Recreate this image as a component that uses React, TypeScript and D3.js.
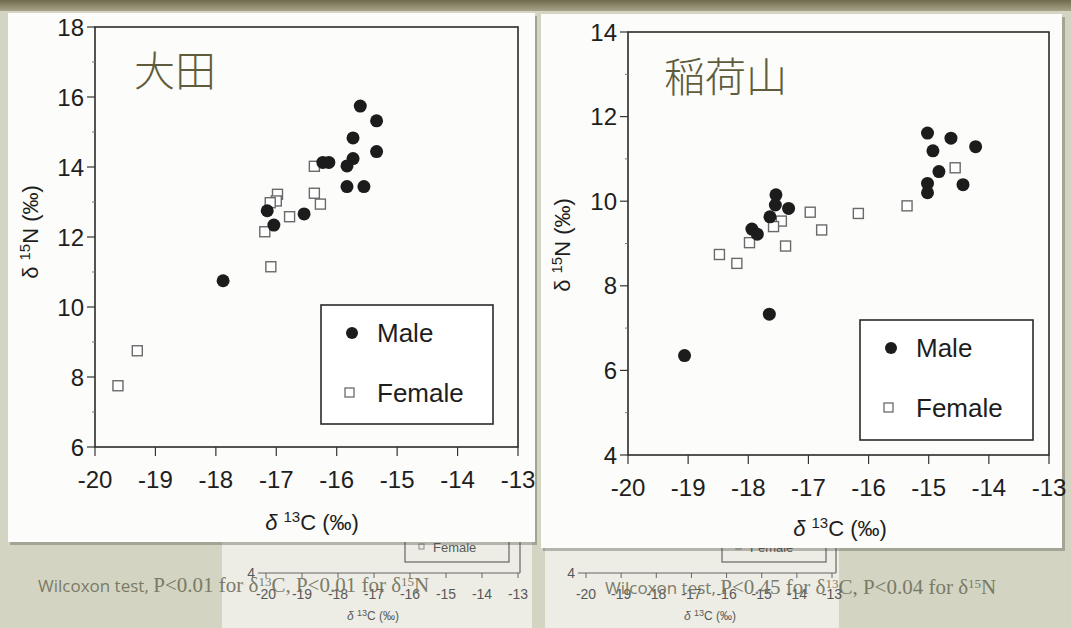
import React from 'react';
import * as d3 from 'd3';

// δ13C / δ15N values
const OTA_MALE_C = [-15.61, -15.34, -15.73, -15.34, -15.73, -15.83, -16.23, -16.13, -15.83, -15.55, -17.15, -17.04, -16.54, -17.88];
const OTA_MALE_N = [15.74, 15.32, 14.83, 14.44, 14.24, 14.03, 14.13, 14.13, 13.44, 13.44, 12.75, 12.34, 12.66, 10.75];
const OTA_FEMALE_C = [-16.37, -16.98, -17.0, -17.1, -16.37, -16.27, -16.78, -17.19, -17.09, -19.62, -19.3];
const OTA_FEMALE_N = [14.02, 13.22, 13.03, 12.98, 13.25, 12.94, 12.58, 12.15, 11.15, 7.75, 8.75];

const INARI_MALE_C = [-15.02, -14.63, -14.22, -14.93, -14.83, -14.43, -15.02, -15.02, -17.54, -17.55, -17.33, -17.64, -17.94, -17.85, -17.65, -19.06];
const INARI_MALE_N = [11.61, 11.49, 11.29, 11.19, 10.7, 10.39, 10.42, 10.2, 10.15, 9.91, 9.83, 9.63, 9.34, 9.22, 7.33, 6.35];
const INARI_FEMALE_C = [-14.56, -15.36, -16.17, -16.97, -16.78, -17.45, -17.58, -17.38, -17.98, -18.48, -18.19];
const INARI_FEMALE_N = [10.79, 9.89, 9.71, 9.74, 9.32, 9.53, 9.4, 8.94, 9.02, 8.74, 8.53];

const X_DOMAIN = [-20, -13];
const OTA_Y_DOMAIN = [6, 18];
const INARI_Y_DOMAIN = [4, 14];
const LEGEND_LABELS = ['Male', 'Female'];
const STATS_OTA = ['P<0.01', 'P<0.01'];
const STATS_INARI = ['P<0.45', 'P<0.04'];

const SANS = 'Liberation Sans, Arial, sans-serif';
const CJK = '"Noto Sans CJK JP", "Noto Sans CJK SC", sans-serif';
const SERIF = '"Liberation Serif", "DejaVu Serif", serif';

const zip = (a, b) => a.map((v, i) => [v, b[i]]);

function Panel({ title, maleC, maleN, femaleC, femaleN, yDomain, box, legend, yLabelPos, xLabelPos, titlePos }) {
  const x = d3.scaleLinear().domain(X_DOMAIN).range([box.x0, box.x1]);
  const y = d3.scaleLinear().domain(yDomain).range([box.y1, box.y0]);
  const yMajor = d3.range(yDomain[0], yDomain[1] + 0.1, 2);
  const yMinor = d3.range(yDomain[0] + 1, yDomain[1], 2);
  const xTicks = x.ticks(7);
  const sq = 10;
  return (
    <g>
      <rect x={box.x0} y={box.y0} width={box.x1 - box.x0} height={box.y1 - box.y0} fill="none" stroke="#2a2a2a" strokeWidth={1.6} />
      {yMajor.map(t => (
        <g key={'y' + t}>
          <line x1={box.x0 - 8} x2={box.x0} y1={y(t)} y2={y(t)} stroke="#333" strokeWidth={1.2} />
          <text x={box.x0 - 11} y={y(t)} dy="0.36em" textAnchor="end" fontFamily={SANS} fontSize={24} fill="#1e1e1e">{t}</text>
        </g>
      ))}
      {yMinor.map(t => (
        <line key={'ym' + t} x1={box.x0 - 3} x2={box.x0} y1={y(t)} y2={y(t)} stroke="#777" strokeWidth={1} />
      ))}
      {xTicks.map(t => (
        <g key={'x' + t}>
          <line x1={x(t)} x2={x(t)} y1={box.y1} y2={box.y1 + 9} stroke="#333" strokeWidth={1.2} />
          <text x={x(t)} y={box.y1 + 41} textAnchor="middle" fontFamily={SANS} fontSize={24} fill="#1e1e1e">{t}</text>
        </g>
      ))}
      <text x={titlePos[0]} y={titlePos[1]} fontFamily={CJK} fontWeight={300} fontSize={41} fill="#5f5c3c">{title}</text>
      <text transform={`translate(${yLabelPos[0]},${yLabelPos[1]}) rotate(-90)`} textAnchor="middle" fontFamily={SANS} fontSize={22} fill="#1e1e1e">
        δ <tspan dy={-8} fontSize={15}>15</tspan><tspan dy={8}>N (‰)</tspan>
      </text>
      <text x={xLabelPos[0]} y={xLabelPos[1]} textAnchor="middle" fontFamily={SANS} fontSize={22} fill="#1e1e1e">
        <tspan fontStyle="italic">δ</tspan> <tspan dy={-8} fontSize={15}>13</tspan><tspan dy={8}>C (‰)</tspan>
      </text>
      {zip(femaleC, femaleN).map(([c, n], i) => (
        <rect key={'f' + i} x={x(c) - sq / 2} y={y(n) - sq / 2} width={sq} height={sq} fill="#fff" stroke="#6a6a6a" strokeWidth={1.4} />
      ))}
      {zip(maleC, maleN).map(([c, n], i) => (
        <circle key={'m' + i} cx={x(c)} cy={y(n)} r={6.5} fill="#1c1c1c" />
      ))}
      <rect x={legend.x} y={legend.y} width={legend.w} height={legend.h} fill="#fff" stroke="#2a2a2a" strokeWidth={1.6} />
      <circle cx={legend.x + 31} cy={legend.y + 28} r={6} fill="#1c1c1c" />
      <rect x={legend.x + 24} y={legend.y + 83} width={9} height={9} fill="#fff" stroke="#6a6a6a" strokeWidth={1.3} />
      <text x={legend.x + 56} y={legend.y + 28} dy="0.36em" fontFamily={SANS} fontSize={26} fill="#1e1e1e">{LEGEND_LABELS[0]}</text>
      <text x={legend.x + 56} y={legend.y + 88} dy="0.36em" fontFamily={SANS} fontSize={26} fill="#1e1e1e">{LEGEND_LABELS[1]}</text>
    </g>
  );
}

function Ghost({ x0, x1, frameRight, legendX, labelX }) {
  const x = d3.scaleLinear().domain(X_DOMAIN).range([x0, x1]);
  return (
    <g opacity={0.8}>
      <line x1={x0 - 8} x2={frameRight} y1={573} y2={573} stroke="#444" strokeWidth={1.2} />
      <line x1={frameRight} x2={frameRight} y1={540} y2={573} stroke="#444" strokeWidth={1.2} />
      <rect x={legendX} y={535} width={104} height={27} fill="none" stroke="#444" strokeWidth={1.2} />
      <rect x={legendX + 14} y={544} width={5} height={5} fill="none" stroke="#777" />
      <text x={legendX + 28} y={552} fontFamily={SANS} fontSize={13} fill="#333">Female</text>
      <text x={x0 - 11} y={578} textAnchor="end" fontFamily={SANS} fontSize={14} fill="#333">4</text>
      {x.ticks(7).map(t => (
        <g key={t}>
          <line x1={x(t)} x2={x(t)} y1={573} y2={578} stroke="#444" />
          <text x={x(t)} y={599} textAnchor="middle" fontFamily={SANS} fontSize={14} fill="#333">{t}</text>
        </g>
      ))}
      <text x={labelX} y={620} textAnchor="middle" fontFamily={SANS} fontSize={12} fill="#333">
        <tspan fontStyle="italic">δ</tspan> <tspan dy={-4} fontSize={9}>13</tspan><tspan dy={4}>C (‰)</tspan>
      </text>
    </g>
  );
}

function Stats({ x, y, vals }) {
  return (
    <text x={x} y={y} fontSize={21} fill="#73735f" opacity={0.92}>
      <tspan fontFamily={'"Open Sans", sans-serif'} fontSize={17}>Wilcoxon test,  </tspan>
      <tspan fontFamily={SERIF}>{vals[0]} for δ</tspan>
      <tspan fontFamily={SERIF} fontSize={13} dy={-6}>13</tspan>
      <tspan fontFamily={SERIF} dy={6}>C, {vals[1]} for δ</tspan>
      <tspan fontFamily={SERIF} fontSize={13} dy={-6}>15</tspan>
      <tspan fontFamily={SERIF} dy={6}>N</tspan>
    </text>
  );
}

export default function App() {
  return (
    <svg width={1071} height={628} style={{ position: 'absolute', left: 0, top: 0 }}>
      <defs>
        <linearGradient id="topband" x1="0" y1="0" x2="0" y2="1">
          <stop offset="0" stopColor="#6f6a4c" />
          <stop offset="1" stopColor="#a7a38a" />
        </linearGradient>
      </defs>
      <rect width={1071} height={628} fill="#d3d5c2" />
      <rect width={1071} height={11} fill="url(#topband)" />
      {/* paper sheets underneath */}
      <rect x={222} y={536} width={310} height={92} fill="#ededE6" />
      <rect x={545} y={540} width={294} height={88} fill="#ededE6" />
      <Ghost x0={266} x1={518} frameRight={520} legendX={405} labelX={373} />
      <Ghost x0={586} x1={832} frameRight={836} legendX={722} labelX={710} />
      {/* main cards */}
      <rect x={10} y={16} width={527} height={529} fill="#4a4a40" opacity={0.35} />
      <rect x={8} y={13} width={527} height={529} fill="#fcfcfa" />
      <rect x={543} y={17} width={522} height={534} fill="#4a4a40" opacity={0.35} />
      <rect x={541} y={14} width={521} height={534} fill="#fcfcfa" />
      <Panel
        title="大田"
        maleC={OTA_MALE_C} maleN={OTA_MALE_N} femaleC={OTA_FEMALE_C} femaleN={OTA_FEMALE_N}
        yDomain={OTA_Y_DOMAIN}
        box={{ x0: 95, x1: 518, y0: 27, y1: 447 }}
        legend={{ x: 321, y: 305, w: 172, h: 119 }}
        yLabelPos={[38, 232]}
        xLabelPos={[312, 530]}
        titlePos={[134, 86]}
      />
      <Panel
        title="稲荷山"
        maleC={INARI_MALE_C} maleN={INARI_MALE_N} femaleC={INARI_FEMALE_C} femaleN={INARI_FEMALE_N}
        yDomain={INARI_Y_DOMAIN}
        box={{ x0: 628, x1: 1049, y0: 32, y1: 455 }}
        legend={{ x: 860, y: 320, w: 173, h: 120 }}
        yLabelPos={[570, 245]}
        xLabelPos={[840, 536]}
        titlePos={[664, 92]}
      />
      <Stats x={38} y={592} vals={STATS_OTA} />
      <Stats x={605} y={594} vals={STATS_INARI} />
    </svg>
  );
}
